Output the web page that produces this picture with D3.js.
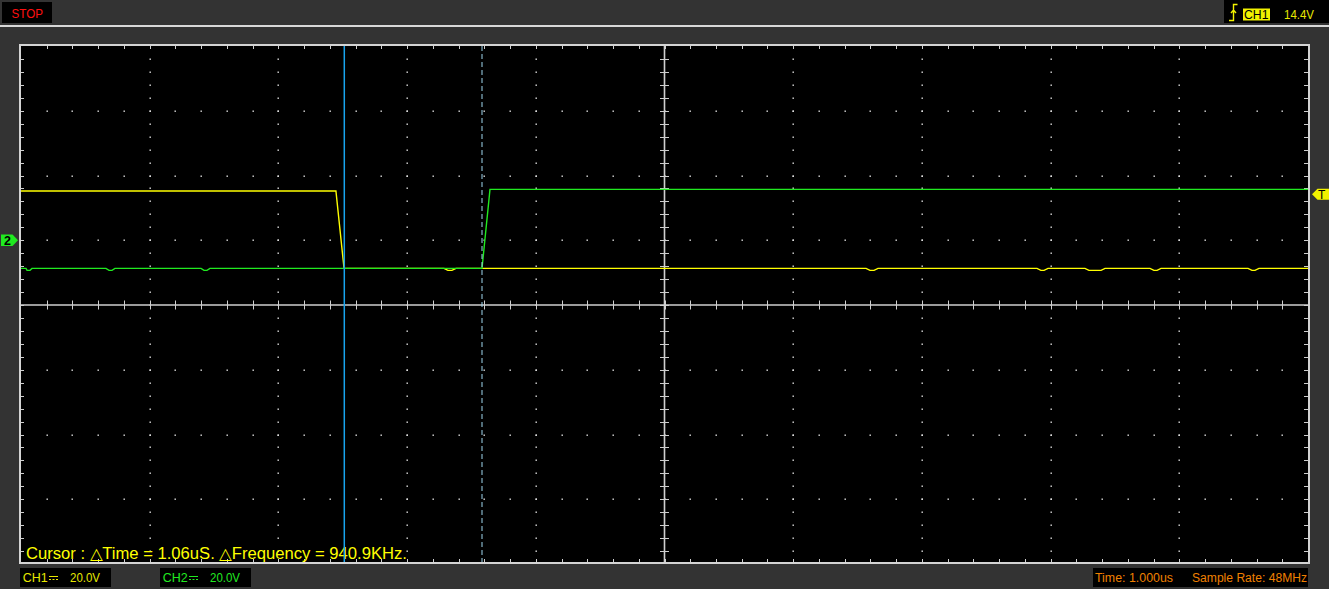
<!DOCTYPE html>
<html><head><meta charset="utf-8">
<script src="https://cdn.jsdelivr.net/npm/d3@7"></script>
<style>html,body{margin:0;padding:0;background:#333333;}svg{display:block}</style>
</head><body>
<svg id="c" width="1329" height="589"></svg>
<script>
// ---- data ----
const timeDomain = [-5, 5];          // us, 1.000 us/div, 10 div
const voltDomain = [-100, 60];       // V, 20 V/div, 8 div (ground 3 div below top)
const ch1Time = [-5.0, -2.553, -2.49, -1.713, -1.683, -1.652, -1.620, 1.566, 1.597, 1.628, 1.659, 2.894, 2.925, 2.949, 2.980, 3.267, 3.298, 3.392, 3.423, 3.772, 3.803, 3.827, 3.858, 4.534, 4.565, 4.588, 4.619, 5.0];
const ch1Volt = [15.2, 15.2, -8.7, -8.7, -9.3, -9.3, -8.7, -8.7, -9.3, -9.3, -8.7, -8.7, -9.3, -9.3, -8.7, -8.7, -9.3, -9.3, -8.7, -8.7, -9.3, -9.3, -8.7, -8.7, -9.3, -9.3, -8.7, -8.7];
const ch2Time = [-5.0, -4.961, -4.953, -4.930, -4.915, -4.340, -4.316, -4.293, -4.270, -3.601, -3.578, -3.555, -3.532, -1.418, -1.356, 5.0];
const ch2Volt = [-8.7, -8.7, -9.3, -9.3, -8.7, -8.7, -9.3, -9.3, -8.7, -8.7, -9.3, -9.3, -8.7, -8.7, 15.7, 15.7];
const cursorTimes = [-2.488, -1.418];
const ch2Ground = 0;
const triggerLevel = 14.4;
const cursorText = "Cursor : \u25B3Time = 1.06uS. \u25B3Frequency = 940.9KHz.";
const ch1Label = ["CH1", "20.0V"];
const ch2Label = ["CH2", "20.0V"];
const timeLabel = "Time: 1.000us";
const rateLabel = "Sample Rate: 48MHz";
const trigLabel = ["CH1", "14.4V"];
const stateLabel = "STOP";

// ---- drawing ----
const svg = d3.select("#c");
const F = "'Liberation Sans', Arial, sans-serif";
const X0 = 21, X1 = 1308, Y0 = 46, Y1 = 564;
const x = d3.scaleLinear().domain(timeDomain).range([X0, X1]);
const y = d3.scaleLinear().domain(voltDomain).range([Y1, Y0]);
const minorX = (timeDomain[1]-timeDomain[0])*5, minorY = (voltDomain[1]-voltDomain[0])/20*5;
const dxm = (X1-X0)/minorX, dym = (Y1-Y0)/minorY;

// top separator line
svg.append("line").attr("x1",0).attr("x2",1329).attr("y1",26).attr("y2",26).attr("stroke","#d8d8d8").attr("stroke-width",2);

// STOP box
svg.append("rect").attr("x",2).attr("y",2).attr("width",50).attr("height",21).attr("fill","#000");
svg.append("text").attr("x",11.5).attr("y",17.5).attr("fill","#ff1010").attr("font-family",F).attr("font-size",13)
  .attr("textLength",31.5).attr("lengthAdjust","spacingAndGlyphs").text(stateLabel);

// trigger box
svg.append("rect").attr("x",1224).attr("y",0).attr("width",105).attr("height",23).attr("fill","#000");
svg.append("path").attr("d","M1229,20.5H1233.5V4.5H1237.5M1231,13L1233.5,10L1236,13").attr("fill","none").attr("stroke","#f2f200").attr("stroke-width",1.4);
svg.append("rect").attr("x",1243).attr("y",8.5).attr("width",27).attr("height",12).attr("fill","#f2f200");
svg.append("text").attr("x",1244).attr("y",19).attr("fill","#000").attr("font-family",F).attr("font-size",13)
  .attr("textLength",24.5).attr("lengthAdjust","spacingAndGlyphs").text(trigLabel[0]);
svg.append("text").attr("x",1284).attr("y",18.5).attr("fill","#e8e800").attr("font-family",F).attr("font-size",12.5)
  .attr("textLength",30).attr("lengthAdjust","spacingAndGlyphs").text(trigLabel[1]);

// plot area
svg.append("rect").attr("x",X0-1).attr("y",Y0-1).attr("width",X1-X0+2).attr("height",Y1-Y0-0).attr("fill","#000").attr("stroke","#d4d4d4").attr("stroke-width",2);

const g = svg.append("g");
const dotC = "#e4e4e4";
// dotted major grid
x.ticks(10).filter(t => t>timeDomain[0] && t<timeDomain[1] && t!==0).forEach(t => {
  const xp = Math.round(x(t)) - 0.5;
  for (let j=1;j<minorY;j++) g.append("rect").attr("x",xp).attr("y",Math.round(Y0+j*dym)-0.5).attr("width",1.4).attr("height",1.4).attr("fill",dotC);
});
d3.range(voltDomain[0]+20, voltDomain[1], 20).filter(v => v !== -20).forEach(v => {
  const yp = Math.round(y(v)) - 0.5;
  for (let j=1;j<minorX;j++) g.append("rect").attr("x",Math.round(X0+j*dxm)-0.5).attr("y",yp).attr("width",1.4).attr("height",1.4).attr("fill",dotC);
});
// edge ticks
const tc = "#cfcfcf";
for (let j=1;j<minorX;j++){
  const xp = Math.round(X0+j*dxm)+0.5;
  g.append("line").attr("x1",xp).attr("x2",xp).attr("y1",Y0).attr("y2",Y0+3).attr("stroke",tc);
  g.append("line").attr("x1",xp).attr("x2",xp).attr("y1",Y1-5).attr("y2",Y1-2).attr("stroke",tc);
  const yc = y(-20);
  g.append("line").attr("x1",xp).attr("x2",xp).attr("y1",yc-4.5).attr("y2",yc+4.5).attr("stroke",tc);
}
for (let j=1;j<minorY;j++){
  const yp = Math.round(Y0+j*dym)+0.5;
  g.append("line").attr("x1",X0).attr("x2",X0+3).attr("y1",yp).attr("y2",yp).attr("stroke",tc);
  g.append("line").attr("x1",X1-4).attr("x2",X1).attr("y1",yp).attr("y2",yp).attr("stroke",tc);
  const xc = x(0);
  g.append("line").attr("x1",xc-4.5).attr("x2",xc+4.5).attr("y1",yp).attr("y2",yp).attr("stroke",tc);
}
// center axes
g.append("line").attr("x1",x(0)).attr("x2",x(0)).attr("y1",Y0).attr("y2",Y1-2).attr("stroke",tc).attr("stroke-width",1.6);
g.append("line").attr("x1",X0).attr("x2",X1).attr("y1",y(-20)).attr("y2",y(-20)).attr("stroke",tc).attr("stroke-width",1.6);

// traces
const line = d3.line().x(d => x(d[0])).y(d => y(d[1]));
svg.append("path").datum(d3.zip(ch1Time, ch1Volt)).attr("d",line).attr("fill","none").attr("stroke","#ffff00").attr("stroke-width",1.4);
svg.append("path").datum(d3.zip(ch2Time, ch2Volt)).attr("d",line).attr("fill","none").attr("stroke","#20ea20").attr("stroke-width",1.4);

// cursor text
svg.append("text").attr("x",26).attr("y",559).attr("fill","#ffff00").attr("font-family",F).attr("font-size",16)
  .attr("textLength",381).attr("lengthAdjust","spacingAndGlyphs").text(cursorText);

// cursors
svg.append("line").attr("x1",x(cursorTimes[1])).attr("x2",x(cursorTimes[1])).attr("y1",Y0).attr("y2",Y1-2)
  .attr("stroke","#9fd6ee").attr("stroke-width",1).attr("stroke-dasharray","5,3");
svg.append("line").attr("x1",x(cursorTimes[0])).attr("x2",x(cursorTimes[0])).attr("y1",Y0).attr("y2",Y1-2)
  .attr("stroke","#18a4ee").attr("stroke-width",1.5);

// channel 2 ground marker
const yg = y(ch2Ground);
svg.append("path").attr("d",`M1,${yg-5.7}H12.5L18,${yg}L12.5,${yg+5.7}H1Z`).attr("fill","#20ea20");
svg.append("text").attr("x",4).attr("y",yg+4.5).attr("fill","#000").attr("font-family",F).attr("font-weight","bold").attr("font-size",12.5).text("2");
// trigger marker
const yt = y(triggerLevel) + 0.5;
svg.append("path").attr("d",`M1312,${yt}L1317.5,${yt-5.5}H1329V${yt+5.5}H1317.5Z`).attr("fill","#f2f200");
svg.append("text").attr("x",1318).attr("y",yt+4.5).attr("fill","#000").attr("font-family",F).attr("font-size",12).text("T");

// bottom channel boxes
function chBox(x0, w, lab, col){
  svg.append("rect").attr("x",x0).attr("y",568).attr("width",w).attr("height",19).attr("fill","#000");
  svg.append("text").attr("x",x0+2.7).attr("y",582).attr("fill",col).attr("font-family",F).attr("font-size",12.5)
    .attr("textLength",25).attr("lengthAdjust","spacingAndGlyphs").text(lab[0]);
  svg.append("line").attr("x1",x0+29).attr("x2",x0+38).attr("y1",576.5).attr("y2",576.5).attr("stroke",col);
  svg.append("line").attr("x1",x0+29).attr("x2",x0+38).attr("y1",579.5).attr("y2",579.5).attr("stroke",col).attr("stroke-dasharray","2,1.5");
  svg.append("text").attr("x",x0+50).attr("y",582).attr("fill",col).attr("font-family",F).attr("font-size",12.5)
    .attr("textLength",30).attr("lengthAdjust","spacingAndGlyphs").text(lab[1]);
}
chBox(20, 91, ch1Label, "#e8e800");
chBox(160, 91, ch2Label, "#20ea20");

// time / sample rate box
svg.append("rect").attr("x",1093).attr("y",568).attr("width",215).attr("height",19).attr("fill","#000");
svg.append("text").attr("x",1095).attr("y",582).attr("fill","#f08000").attr("font-family",F).attr("font-size",12.3)
  .attr("textLength",78).attr("lengthAdjust","spacingAndGlyphs").text(timeLabel);
svg.append("text").attr("x",1192).attr("y",582).attr("fill","#f08000").attr("font-family",F).attr("font-size",12.3)
  .attr("textLength",115).attr("lengthAdjust","spacingAndGlyphs").text(rateLabel);
</script>
</body></html>
